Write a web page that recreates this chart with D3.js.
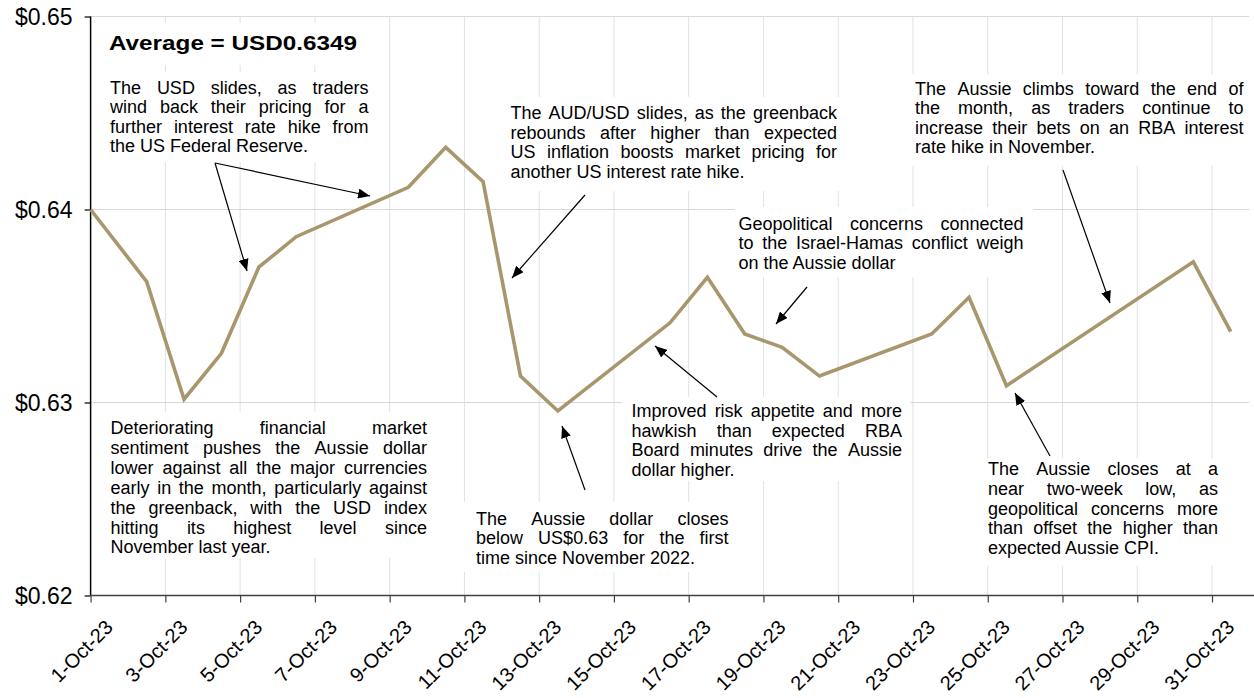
<!DOCTYPE html>
<html>
<head>
<meta charset="utf-8">
<script src="https://cdn.jsdelivr.net/npm/d3@7"></script>
<style>
  html, body { margin: 0; padding: 0; background: #fff; }
  svg { display: block; }
  text { font-family: "Liberation Sans", Arial, sans-serif; fill: #000; }
</style>
</head>
<body>
<svg id="chart" width="1254" height="698"></svg>
<script>
// ---------------- DATA ----------------
const dates = ["2023-10-01","2023-10-02","2023-10-03","2023-10-04","2023-10-05","2023-10-06",
  "2023-10-09","2023-10-10","2023-10-11","2023-10-12","2023-10-13",
  "2023-10-16","2023-10-17","2023-10-18","2023-10-19","2023-10-20",
  "2023-10-23","2023-10-24","2023-10-25","2023-10-30","2023-10-31"];
const audusd = [0.6400, 0.63626, 0.63017, 0.63255, 0.63701, 0.63859,
  0.64115, 0.64322, 0.64144, 0.63137, 0.62956,
  0.63413, 0.63649, 0.63355, 0.63286, 0.63137,
  0.63355, 0.63545, 0.63087, 0.63729, 0.63367];
const yTicks = [0.62, 0.63, 0.64, 0.65];
const xTickDates = ["2023-10-01","2023-10-03","2023-10-05","2023-10-07","2023-10-09","2023-10-11",
  "2023-10-13","2023-10-15","2023-10-17","2023-10-19","2023-10-21","2023-10-23",
  "2023-10-25","2023-10-27","2023-10-29","2023-10-31"];
const averageLabel = "Average = USD0.6349";

const notes = [
  ["The USD slides, as traders","wind back their pricing for a","further interest rate hike from","the US Federal Reserve."],
  ["The AUD/USD slides, as the greenback","rebounds after higher than expected","US inflation boosts market pricing for","another US interest rate hike."],
  ["The Aussie climbs toward the end of","the month, as traders continue to","increase their bets on an RBA interest","rate hike in November."],
  ["Geopolitical concerns connected","to the Israel-Hamas conflict weigh","on the Aussie dollar"],
  ["Deteriorating financial market","sentiment pushes the Aussie dollar","lower against all the major currencies","early in the month, particularly against","the greenback, with the USD index","hitting its highest level since","November last year."],
  ["Improved risk appetite and more","hawkish than expected RBA","Board minutes drive the Aussie","dollar higher."],
  ["The Aussie dollar closes","below US$0.63 for the first","time since November 2022."],
  ["The Aussie closes at a","near two-week low, as","geopolitical concerns more","than offset the higher than","expected Aussie CPI."]
];

// ---------------- CHART ----------------
(function () {
const W = 1254, H = 698;
const pL = 90.6, pR = 1249.4, pT = 16.5, pB = 595.5;
const parse = d3.utcParse("%Y-%m-%d");
const fmt = d3.utcFormat("%-d-%b-%y");
const HALF_DAY = 12 * 3600 * 1000;

const x = d3.scaleUtc().domain([parse("2023-10-01"), parse("2023-11-01")]).range([pL, pR]);
const y = d3.scaleLinear().domain([0.62, 0.65]).range([pB, pT]);

const svg = d3.select("#chart");
svg.append("rect").attr("width", W).attr("height", H).attr("fill", "#fff");

const defs = svg.append("defs");
defs.append("marker").attr("id", "arrow")
  .attr("viewBox", "0 0 12 10").attr("refX", 12).attr("refY", 5)
  .attr("markerWidth", 12).attr("markerHeight", 10)
  .attr("markerUnits", "userSpaceOnUse").attr("orient", "auto")
  .append("path").attr("d", "M0,0 L12,5 L0,10 Z").attr("fill", "#000");

// gridlines
const grid = svg.append("g");
grid.selectAll("line.v").data(xTickDates).join("line").attr("class", "v")
  .attr("x1", d => x(parse(d))).attr("x2", d => x(parse(d)))
  .attr("y1", pT).attr("y2", pB)
  .attr("stroke", "#dde2e9").attr("stroke-width", 1);
grid.selectAll("line.h").data(yTicks.filter(v => v > 0.62)).join("line").attr("class", "h")
  .attr("x1", pL).attr("x2", pR)
  .attr("y1", d => y(d)).attr("y2", d => y(d))
  .attr("stroke", "#d9d9d9").attr("stroke-width", 1);

// white annotation boxes (cover gridlines)
const boxes = [
  [100, 23, 268, 42], [100, 72, 276, 90], [500, 97, 346, 94], [905, 74, 348, 92],
  [735, 207, 298, 70], [100, 412, 337, 146], [622, 397, 288, 84], [462, 502, 280, 70],
  [978, 458, 252, 108]
];
svg.append("g").selectAll("rect").data(boxes).join("rect")
  .attr("x", d => d[0]).attr("y", d => d[1]).attr("width", d => d[2]).attr("height", d => d[3])
  .attr("fill", "#fff");

// axes
const yAxis = d3.axisLeft(y).tickValues(yTicks).tickSize(6).tickFormat(d => "$" + d.toFixed(2));
const gy = svg.append("g").attr("transform", `translate(${pL},0)`).call(yAxis);
gy.select(".domain").attr("stroke", "#000").attr("stroke-width", 1.5).attr("d", `M0,${pT}V${pB}`);
gy.selectAll(".tick line").attr("stroke", "#000").attr("stroke-width", 1.2);
gy.selectAll(".tick text").attr("x", -18).attr("dy", "0.35em")
  .style("font-size", "23px").style("font-family", "Liberation Sans, Arial, sans-serif").attr("fill", "#000");

const xAxis = d3.axisBottom(x).tickValues(xTickDates.map(parse)).tickSize(7).tickFormat(fmt);
const gx = svg.append("g").attr("transform", `translate(0,${pB})`).call(xAxis);
gx.select(".domain").attr("stroke", "#404040").attr("stroke-width", 1.3).attr("d", `M${pL},0H${W}`);
gx.selectAll(".tick line").attr("stroke", "#404040").attr("stroke-width", 1.2);
gx.selectAll(".tick text")
  .style("font-size", "20px").style("font-family", "Liberation Sans, Arial, sans-serif").attr("fill", "#000")
  .attr("text-anchor", "end").attr("y", 0).attr("dy", 0)
  .attr("transform", "translate(23,33) rotate(-45)");

// data line (daily closes plotted mid-day; first value at axis start)
const pts = dates.map((d, i) => ({ t: i === 0 ? +parse(d) : +parse(d) + HALF_DAY, v: audusd[i] }));
svg.append("path").datum(pts)
  .attr("d", d3.line().x(d => x(d.t)).y(d => y(d.v)))
  .attr("fill", "none").attr("stroke", "#a8976d").attr("stroke-width", 3.6)
  .attr("stroke-linejoin", "miter");

// arrows
const arrows = [
  [215, 163, 247, 271], [215, 163, 370, 196], [585, 195, 512, 278], [717, 397, 655, 346],
  [807, 287, 776, 324], [1063, 170, 1110, 303], [1050, 456, 1015, 393], [585, 490, 562, 426]
];
svg.append("g").selectAll("line").data(arrows).join("line")
  .attr("x1", d => d[0]).attr("y1", d => d[1]).attr("x2", d => d[2]).attr("y2", d => d[3])
  .attr("stroke", "#000").attr("stroke-width", 1.2).attr("marker-end", "url(#arrow)");

// average title
svg.append("text").attr("x", 109).attr("y", 50)
  .style("font-size", "21px").style("font-weight", "bold")
  .attr("textLength", 248).attr("lengthAdjust", "spacingAndGlyphs")
  .text(averageLabel);

// justified annotation text
const FS = 18;
const meas = svg.append("text").style("font-size", FS + "px").attr("visibility", "hidden");
function tw(s) { meas.text(s); return meas.node().getComputedTextLength(); }

function block(lines, x0, x1, y0, lh) {
  const g = svg.append("g").style("font-size", FS + "px");
  lines.forEach((line, i) => {
    const yy = y0 + i * lh;
    const words = line.split(" ");
    if (i === lines.length - 1 || words.length === 1) {
      g.append("text").attr("x", x0).attr("y", yy).text(line);
      return;
    }
    const widths = words.map(tw);
    const total = d3.sum(widths);
    const gap = (x1 - x0 - total) / (words.length - 1);
    if (gap < 3) {
      g.append("text").attr("x", x0).attr("y", yy)
        .attr("textLength", x1 - x0).attr("lengthAdjust", "spacingAndGlyphs").text(line);
      return;
    }
    let cx = x0;
    words.forEach((w, j) => {
      g.append("text").attr("x", cx).attr("y", yy).text(w);
      cx += widths[j] + gap;
    });
  });
}

const blockPos = [
  [110, 368.5, 93.5, 19.5],
  [510.5, 837, 119, 19.5],
  [915, 1243.5, 94.5, 19.5],
  [738.5, 1023.5, 230, 19.3],
  [110.5, 427, 434.3, 19.85],
  [631.5, 902, 416.7, 19.8],
  [476, 728.5, 525, 19.3],
  [988, 1218, 475, 19.8]
];
notes.forEach((lines, i) => block(lines, ...blockPos[i]));
meas.remove();
})();
</script>
</body>
</html>
